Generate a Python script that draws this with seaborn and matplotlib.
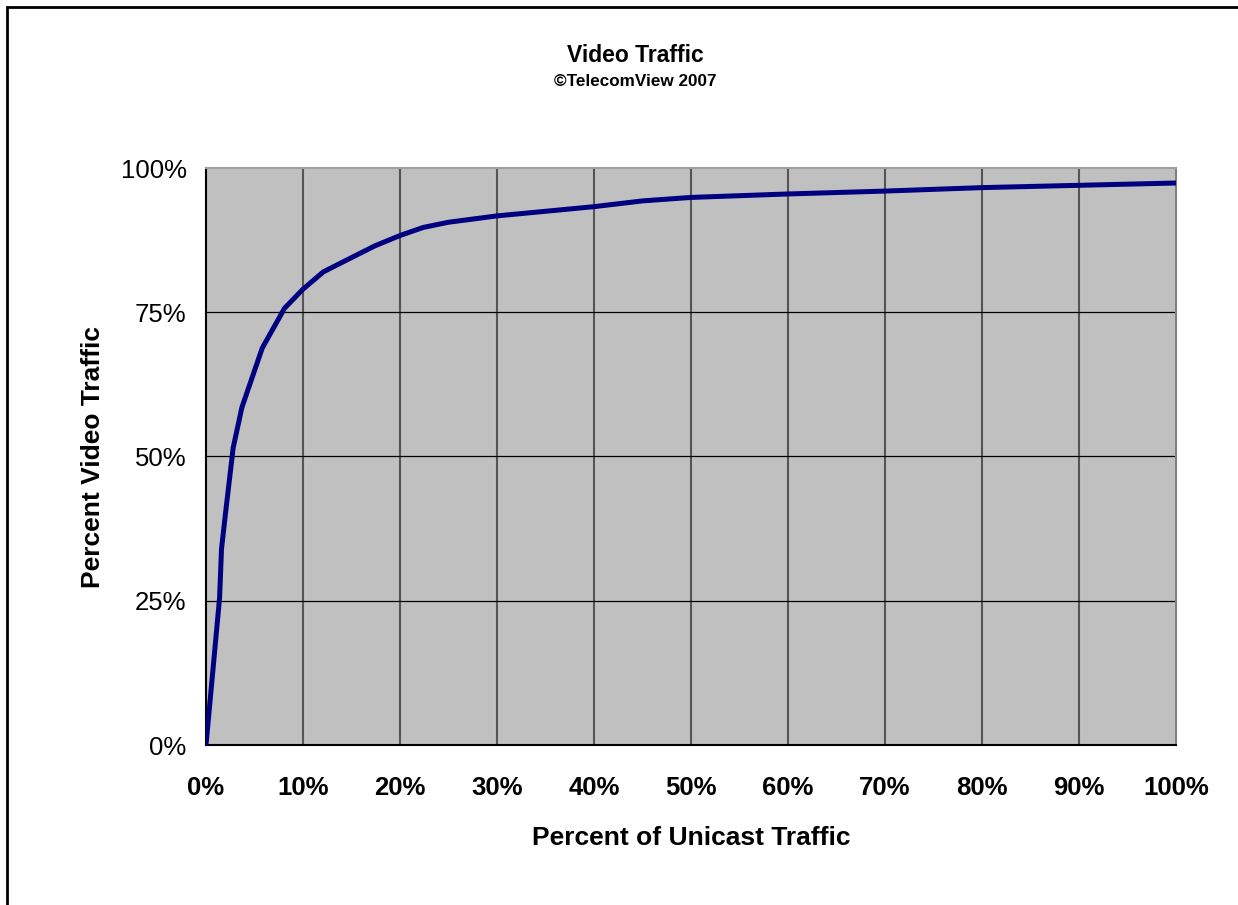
import matplotlib
matplotlib.use("Agg")
import matplotlib.pyplot as plt
import matplotlib.patches as mpatches
import seaborn as sns
import numpy as np
import pandas as pd

# percent of unicast traffic vs. percent of video traffic
unicast_pct = [0, 1.4, 1.6, 2.0, 2.8, 3.7, 5.8, 8.1, 10.0, 12.1, 14.8, 17.4, 20.0,
               22.4, 25.0, 30.0, 35.0, 40.0, 45.0, 50.0, 60.0, 70.0, 80.0, 90.0, 100.0]
video_pct = [0, 25.5, 34.0, 40.0, 51.5, 58.5, 68.8, 75.7, 79.0, 82.0, 84.3, 86.5, 88.3,
             89.7, 90.6, 91.7, 92.5, 93.3, 94.3, 94.9, 95.5, 96.0, 96.6, 97.0, 97.4]
x_ticks = list(range(0, 101, 10))
y_ticks = [0, 25, 50, 75, 100]

df = pd.DataFrame({"unicast": unicast_pct, "video": video_pct})

sns.set_style("white")
plt.rcParams['font.family'] = ['Liberation Sans', 'DejaVu Sans']
plt.rcParams['text.color'] = 'black'
plt.rcParams['axes.labelcolor'] = 'black'
plt.rcParams['xtick.labelcolor'] = 'black'
plt.rcParams['ytick.labelcolor'] = 'black'

fig = plt.figure(figsize=(12.38, 9.05), dpi=100)
ax = fig.add_axes([206/1238, 1 - 745/905, 970/1238, 577/905])
ax.set_facecolor('#C0C0C0')

sns.lineplot(data=df, x="unicast", y="video", ax=ax, color='#000080',
             linewidth=3.6, zorder=5)

ax.set_xlim(0, 100)
ax.set_ylim(0, 100)
ax.set_xticks(x_ticks)
ax.set_yticks(y_ticks)
ax.set_xticklabels([f"{t}%" for t in x_ticks], fontsize=18.5, fontweight='bold')
ax.set_yticklabels([f"{t}%" for t in y_ticks], fontsize=18.5)
ax.tick_params(axis='both', direction='out', length=6, width=1.2, color='#555555', pad=8)
ax.tick_params(axis='y', color='black', width=1.2)
ax.tick_params(axis='x', pad=16)

for t in x_ticks[1:-1]:
    ax.axvline(t, color='#555555', linewidth=1.5, zorder=1)
for t in y_ticks[1:-1]:
    ax.axhline(t, color='black', linewidth=0.9, zorder=1)

ax.spines['left'].set_color('black')
ax.spines['bottom'].set_color('black')
ax.spines['top'].set_color('#A0A0A0')
ax.spines['right'].set_color('#808080')
for s in ax.spines.values():
    s.set_linewidth(1.5)

ax.set_xlabel("Percent of Unicast Traffic", fontsize=19, fontweight='bold', labelpad=19)
ax.set_ylabel("Percent Video Traffic", fontsize=19, fontweight='bold', labelpad=11)

fig.text(635/1238, 1 - 55/905, "Video Traffic", fontsize=16.5, fontweight='bold',
         ha='center', va='center')
fig.text(635/1238, 1 - 81/905, "\u00a9TelecomView 2007", fontsize=12.3, fontweight='bold',
         ha='center', va='center')

fig.patches.append(mpatches.Rectangle((7/1238, -0.1), 1.2, 1 - 7/905 + 0.1,
                                      transform=fig.transFigure, fill=False,
                                      edgecolor='black', linewidth=2))

fig.savefig("out.png", dpi=100)
